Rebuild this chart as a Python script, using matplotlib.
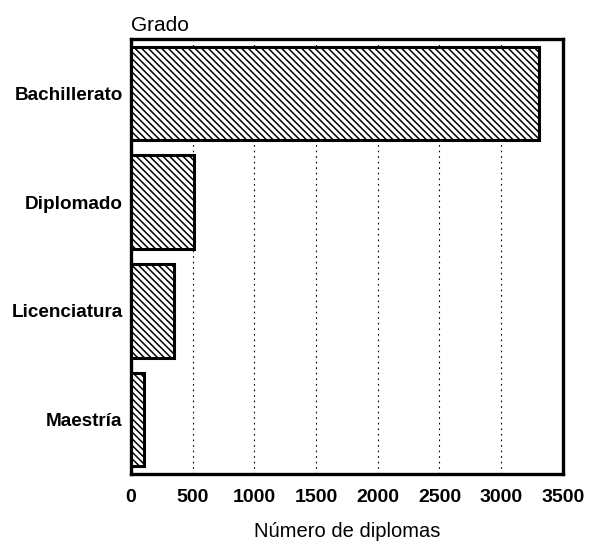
import matplotlib
matplotlib.use("Agg")
import matplotlib.pyplot as plt

categories = ["Bachillerato", "Diplomado", "Licenciatura", "Maestría"]
values = [3310, 514, 345, 104]
xticks = [0, 500, 1000, 1500, 2000, 2500, 3000, 3500]

plt.rcParams['font.family'] = ['Liberation Sans', 'DejaVu Sans']
plt.rcParams['hatch.linewidth'] = 1.1

fig = plt.figure(figsize=(5.9, 5.42), dpi=100)
ax = fig.add_axes([0.222, 0.1255, 0.732, 0.8025])

ax.barh(range(len(categories)), values, height=0.86, color='white',
        edgecolor='black', linewidth=2.2, hatch='\\\\\\\\\\', zorder=3)

ax.set_xlim(0, 3500)
ax.set_ylim(3.5, -0.5)
ax.set_xticks(xticks)
ax.set_xticklabels([str(t) for t in xticks], fontweight='bold', fontsize=14)
ax.set_yticks(range(len(categories)))
ax.set_yticklabels(categories, fontweight='bold', fontsize=13.6)
ax.tick_params(length=0)
ax.tick_params(axis='y', pad=6)
ax.tick_params(axis='x', pad=11)

ax.grid(axis='x', linestyle=(0, (1.5, 3.5)), color='black', linewidth=0.8, zorder=0)
for s in ax.spines.values():
    s.set_linewidth(2.4)

ax.set_xlabel("Número de diplomas", fontsize=14.5, labelpad=11)
ax.text(0.0, 1.01, "Grado", transform=ax.transAxes, fontsize=15,
        ha='left', va='bottom')

fig.savefig("out.png", dpi=100)
